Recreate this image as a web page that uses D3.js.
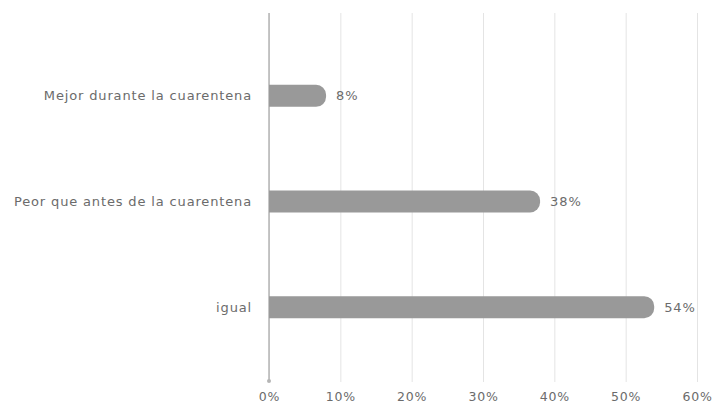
<!DOCTYPE html>
<html>
<head>
<meta charset="utf-8">
<script src="https://cdn.jsdelivr.net/npm/d3@7"></script>
<style>
  html, body { margin: 0; padding: 0; background: #fff; }
  svg { display: block; }
  text { font-family: "DejaVu Sans", sans-serif; fill: #6b6b6b; }
</style>
</head>
<body>
<script>
// Survey answers and their shares (percent)
const categories = ["Mejor durante la cuarentena", "Peor que antes de la cuarentena", "igual"];
const values = [8, 38, 54];
const tickValues = [0, 10, 20, 30, 40, 50, 60];
const tickLabels = ["0%", "10%", "20%", "30%", "40%", "50%", "60%"];

const W = 721, H = 409;
const svg = d3.select("body").append("svg").attr("width", W).attr("height", H);

const x = d3.scaleLinear().domain([0, 60]).range([269, 697]);
const y = d3.scalePoint().domain(categories).range([43, 360]).padding(0.5);
const barH = 22, r = 10;
const gridTop = 13, gridBottom = 382;

// vertical gridlines + bottom tick labels
const axis = d3.axisBottom(x)
  .tickValues(tickValues)
  .tickFormat((d, i) => tickLabels[i])
  .tickSize(-(gridBottom - gridTop))
  .tickPadding(10);

const gAxis = svg.append("g")
  .attr("transform", `translate(0,${gridBottom})`)
  .call(axis);
gAxis.select(".domain").remove();
gAxis.selectAll(".tick line").attr("stroke", "#e4e4e4").attr("stroke-width", 1);
gAxis.selectAll(".tick text")
  .attr("font-size", 12.5)
  .attr("letter-spacing", 0.8)
  .attr("fill", "#707070")
  .attr("font-family", "DejaVu Sans, sans-serif");

// baseline at zero
svg.append("line")
  .attr("x1", x(0)).attr("x2", x(0))
  .attr("y1", gridTop).attr("y2", gridBottom)
  .attr("stroke", "#b5b5b5").attr("stroke-width", 1.5);
svg.append("circle")
  .attr("cx", x(0)).attr("cy", gridBottom - 1).attr("r", 2)
  .attr("fill", "#b5b5b5");

// bars with a rounded right end
function barPath(v, cy) {
  const x0 = x(0), x1 = x(v);
  const top = cy - barH / 2, bot = cy + barH / 2;
  return `M${x0},${top} H${x1 - r} A${r},${r} 0 0 1 ${x1},${top + r} V${bot - r} A${r},${r} 0 0 1 ${x1 - r},${bot} H${x0} Z`;
}

svg.append("g").selectAll("path")
  .data(categories)
  .join("path")
  .attr("d", (c, i) => barPath(values[i], y(c)))
  .attr("fill", "#999999");

// value labels
svg.append("g").selectAll("text")
  .data(categories)
  .join("text")
  .attr("x", (c, i) => x(values[i]) + 10)
  .attr("y", c => y(c))
  .attr("dy", "0.35em")
  .attr("font-size", 13)
  .attr("letter-spacing", 0.9)
  .text((c, i) => values[i] + "%");

// category labels
svg.append("g").selectAll("text")
  .data(categories)
  .join("text")
  .attr("x", 252)
  .attr("y", c => y(c))
  .attr("dy", "0.35em")
  .attr("text-anchor", "end")
  .attr("font-size", 13)
  .attr("letter-spacing", 0.85)
  .text(c => c);
</script>
</body>
</html>
